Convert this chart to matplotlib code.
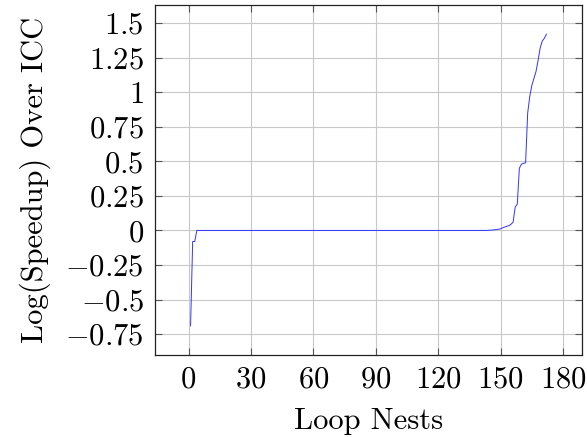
import matplotlib
matplotlib.use("Agg")
import matplotlib.pyplot as plt
from matplotlib.ticker import FixedLocator, FuncFormatter

plt.rcParams['mathtext.fontset'] = 'cm'
plt.rcParams['font.family'] = ['cmr10', 'DejaVu Serif']
plt.rcParams['axes.unicode_minus'] = False

# Data: sorted log speedups per loop nest (x = 1..172)
head_values = [-0.69, -0.08, -0.08]
flat_values = [0.0] * 140  # loop nests 4..143
tail_values = [0.001, 0.002, 0.003, 0.005, 0.007, 0.009, 0.012, 0.02, 0.025,
               0.03, 0.035, 0.045, 0.06, 0.17, 0.19, 0.45, 0.48, 0.485, 0.49,
               0.85, 0.97, 1.05, 1.10, 1.15, 1.23, 1.32, 1.37, 1.39, 1.42]
speedup = head_values + flat_values + tail_values
loop_nests = list(range(1, len(speedup) + 1))

x_ticks = [0, 30, 60, 90, 120, 150, 180]
y_ticks = [-0.75, -0.5, -0.25, 0, 0.25, 0.5, 0.75, 1, 1.25, 1.5]

fig = plt.figure(figsize=(5.87, 4.37), dpi=100)
ax = fig.add_axes([155/587, 1 - 355/437, (582-155)/587, (355-5)/437])

ax.plot(loop_nests, speedup, color='#3333ff', lw=0.7)

xr = max(loop_nests) - min(loop_nests)
ax.set_xlim(min(loop_nests) - 0.1*xr, max(loop_nests) + 0.1*xr)
yr = max(speedup) - min(speedup)
ax.set_ylim(min(speedup) - 0.1*yr, max(speedup) + 0.1*yr)

def fmt(v, pos):
    s = ('%g' % v)
    if s.startswith('-'):
        return r'$-$' + r'$\mathrm{' + s[1:] + '}$'
    return r'$\mathrm{' + s + '}$'

ax.xaxis.set_major_locator(FixedLocator(x_ticks))
ax.yaxis.set_major_locator(FixedLocator(y_ticks))
ax.xaxis.set_major_formatter(FuncFormatter(fmt))
ax.yaxis.set_major_formatter(FuncFormatter(fmt))

ax.grid(True, color='#c8c8c8', lw=0.8)
ax.set_axisbelow(True)
ax.tick_params(direction='in', length=5, width=0.8, color='#555555',
               top=True, right=True, labelsize=22, pad=8)
for sp in ax.spines.values():
    sp.set_linewidth(0.9)
    sp.set_color('#222222')

ax.set_xlabel('Loop Nests', fontsize=22, labelpad=10)
ax.set_ylabel('Log(Speedup) Over ICC', fontsize=22, labelpad=10)

fig.savefig('out.png', dpi=100)
